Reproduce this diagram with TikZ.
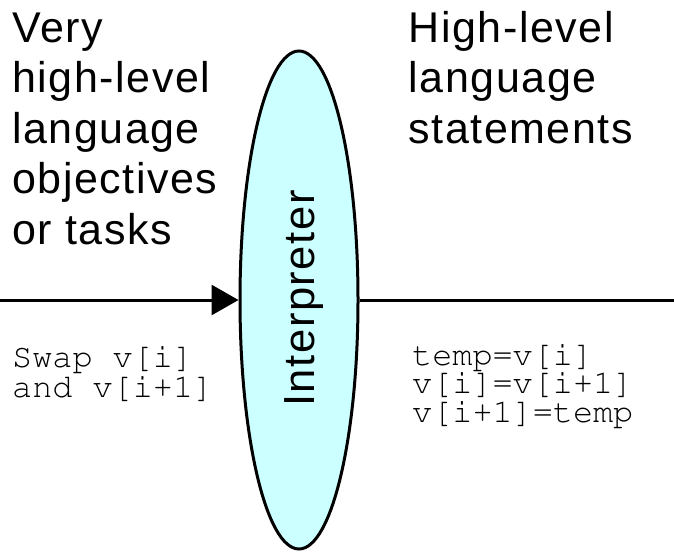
\documentclass[tikz,border=0pt]{standalone}
\usepackage[T1]{fontenc}
\usepackage{fontspec}
\setmainfont{Liberation Sans}
\newfontfamily\bigfont[LetterSpace=3.6]{Liberation Sans}
\newcommand\codefont{\fontencoding{T1}\fontfamily{pcr}\selectfont}
\usetikzlibrary{arrows.meta,shapes.geometric}
\definecolor{interpfill}{HTML}{CCFFFF}
\begin{document}
\begin{tikzpicture}[x=1pt,y=-1pt,
  bigtext/.style={inner sep=0pt, anchor=base west, font=\bigfont\fontsize{43}{50}\selectfont},
  codetext/.style={inner sep=0pt, anchor=base west, font=\codefont\fontsize{33.5}{29}\selectfont},
  flow/.style={line width=3pt},
  stage/.style={ellipse, draw, line width=3pt, fill=interpfill, inner sep=0pt,
                minimum width=118pt, minimum height=498pt}]
\useasboundingbox (0,0) rectangle (674,551);

% the interpreter
\node[stage] (interp) at (299,300) {};
\node[inner sep=0pt, anchor=base, rotate=90, font=\bigfont\fontsize{43.5}{50}\selectfont]
  (interplabel) at (314.5,298.5) {Interpreter};

% input and output lines
\coordinate (in) at (0,300);
\coordinate (out) at (674,300);
\draw[flow, -{Triangle[length=27pt,width=30pt]}] (in) -- (interp.west);
\draw[flow] (interp.east) -- (out);

% left side: task description
\node[bigtext] (v1) at (12,42)  {Very};
\node[bigtext] (v2) at (12,92.5)  {high-level};
\node[bigtext] (v3) at (12,143)  {language};
\node[bigtext] (v4) at (12,193.5) {objectives};
\node[bigtext] (v5) at (12,244) {or tasks};

% right side: statements
\node[bigtext] (h1) at (408.5,42)  {High-level};
\node[bigtext] (h2) at (408.5,92.5)  {language};
\node[bigtext] (h3) at (408.5,143)  {statements};

% code samples
\node[codetext] (c1) at (12,367) {Swap v[i]};
\node[codetext] (c2) at (12,397) {and v[i+1]};
\node[codetext] (s1) at (412,365) {temp=v[i]};
\node[codetext] (s2) at (412,393.5) {v[i]=v[i+1]};
\node[codetext] (s3) at (412,422) {v[i+1]=temp};
\end{tikzpicture}
\end{document}
